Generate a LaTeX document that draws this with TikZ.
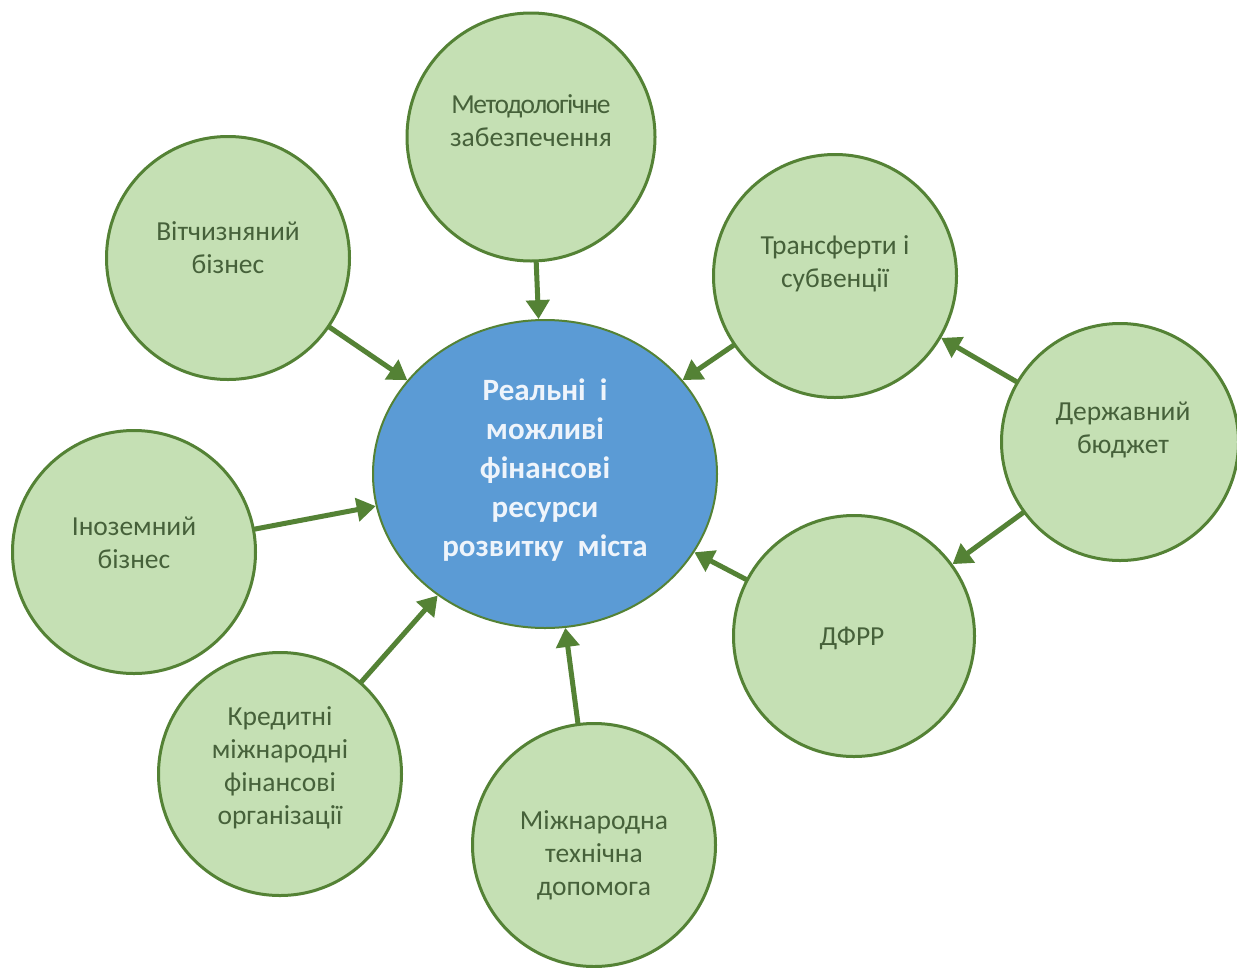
\documentclass[tikz,border=0pt]{standalone}
\usepackage{fontspec}
\setmainfont{Carlito}
\usetikzlibrary{shapes.geometric,arrows.meta}
\definecolor{gborder}{HTML}{548235}
\definecolor{gfill}{HTML}{C5E0B4}
\definecolor{gtext}{HTML}{46613A}
\definecolor{bfill}{HTML}{5B9BD5}
\definecolor{btext}{HTML}{EEF4FB}
\tikzset{
  leaf/.style={circle, draw=gborder, fill=gfill, line width=3pt, inner sep=0pt},
  leaftext/.style={align=center, text=gtext, font=\fontsize{27.5}{33}\selectfont},
  hub/.style={ellipse, draw=gborder, fill=bfill, line width=2pt, minimum width=344pt, minimum height=308pt, inner sep=0pt},
  hubtext/.style={align=center, text=btext, font=\fontsize{31}{39}\selectfont\bfseries},
  flow/.style={draw=gborder, line width=5pt, -{Triangle[length=19pt,width=23pt]}, shorten <=-1pt}
}
\begin{document}
\begin{tikzpicture}[x=1pt,y=-1pt]
\useasboundingbox (0,0) rectangle (1237,967);
\fill[white] (0,0) rectangle (1237,967);
% nodes
\node[hub] (hub) at (545,474) {};
\node[leaf, minimum size=248pt] (met) at (531,137) {};
\node[leaf, minimum size=243pt] (vit) at (228,258) {};
\node[leaf, minimum size=243pt] (tra) at (835,276) {};
\node[leaf, minimum size=237pt] (der) at (1120,442) {};
\node[leaf, minimum size=243pt] (ino) at (134,552) {};
\node[leaf, minimum size=241pt] (dfr) at (854,636) {};
\node[leaf, minimum size=243pt] (kre) at (280,774) {};
\node[leaf, minimum size=243pt] (mtd) at (594,845) {};
% texts
\node[hubtext] (hubt) at (545,470) {Реальні\ \ і\\можливі\\фінансові\\ресурси\\розвитку\ \ міста};
\node[leaftext] (mett) at (531,121) {\addfontfeature{LetterSpace=-5}Методологічне\\забезпечення};
\node[leaftext] (vitt) at (228,248) {Вітчизняний\\бізнес};
\node[leaftext] (trat) at (835,264) {Трансферти і\\субвенції};
\node[leaftext] (dert) at (1123,430) {Державний\\бюджет};
\node[leaftext] (inot) at (134,543) {Іноземний\\бізнес};
\node[leaftext] (dfrt) at (852,638) {ДФРР};
\node[leaftext] (kret) at (280,768) {Кредитні\\міжнародні\\фінансові\\організації};
\node[leaftext] (mtdt) at (594,855) {Міжнародна\\технічна\\допомога};
% connectors
\draw[flow] (met) -- (hub);
\draw[flow] (vit) -- (hub);
\draw[flow] (tra) -- (hub);
\draw[flow] (ino) -- (hub);
\draw[flow] (kre) -- (hub);
\draw[flow] (mtd) -- (hub);
\draw[flow] (dfr) -- (hub);
\draw[flow] (der) -- (tra);
\draw[flow] (der) -- (dfr);
\end{tikzpicture}
\end{document}
